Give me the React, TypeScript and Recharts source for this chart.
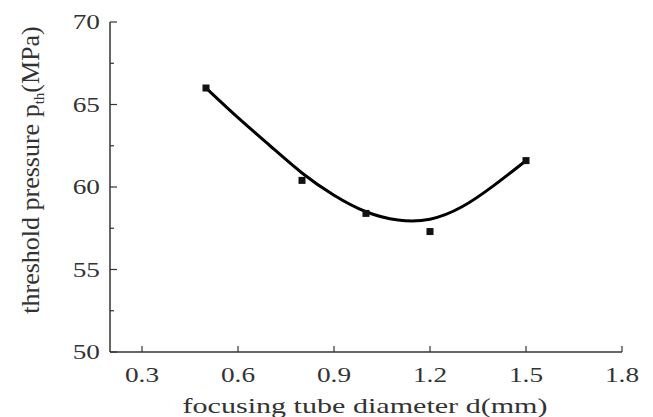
import React from 'react';
import { ComposedChart, Line, Scatter, XAxis, YAxis } from 'recharts';

// measured points
const diameters = [0.5, 0.8, 1.0, 1.2, 1.5];
const pressures = [66.0, 60.4, 58.4, 57.3, 61.6];

// fitted curve
const fitDiameters = [0.5, 0.6, 0.7, 0.8, 0.9, 1.0, 1.1, 1.2, 1.3, 1.4, 1.5];
const fitPressures = [66.0, 64.2, 62.5, 60.85, 59.5, 58.5, 58.0, 58.05, 58.8, 60.1, 61.6];

const xTicks = [0.3, 0.6, 0.9, 1.2, 1.5, 1.8];
const yTicks = [50, 52.5, 55, 57.5, 60, 62.5, 65, 67.5, 70];

const pointData = diameters.map((d, i) => ({ x: d, y: pressures[i] }));
const fitData = fitDiameters.map((d, i) => ({ x: d, y: fitPressures[i] }));

const FONT = '"Liberation Serif", "Times New Roman", serif';
const AXIS = '#333';

const XTick = (props: any) => {
  const { x, y, payload } = props;
  return (
    <g>
      <line x1={x} x2={x} y1={y} y2={y - 6} stroke={AXIS} strokeWidth={1.2} />
      <text
        transform={`translate(${x},${y + 30}) scale(1.3,1)`}
        textAnchor="middle"
        fontFamily={FONT}
        fontSize={21}
        fill="#333"
      >
        {payload.value.toFixed(1)}
      </text>
    </g>
  );
};

const YTick = (props: any) => {
  const { x, y, payload } = props;
  const major = payload.value % 5 === 0;
  return (
    <g>
      <line x1={x} x2={x + (major ? 7 : 4)} y1={y} y2={y} stroke={AXIS} strokeWidth={1.2} />
      {major && (
        <text
          transform={`translate(${x - 10},${y + 7}) scale(1.3,1)`}
          textAnchor="end"
          fontFamily={FONT}
          fontSize={21}
          fill="#333"
        >
          {payload.value}
        </text>
      )}
    </g>
  );
};

const Square = (props: any) => {
  const { cx, cy } = props;
  return <rect x={cx - 3.5} y={cy - 3.5} width={7} height={7} fill="#111" />;
};

const XTitle = () => (
  <text
    x={365}
    y={413}
    textAnchor="middle"
    fontFamily={FONT}
    fontSize={22}
    textLength={365}
    lengthAdjust="spacingAndGlyphs"
    fill="#333"
  >
    focusing tube diameter d(mm)
  </text>
);

const YTitle = () => (
  <text
    transform="translate(39,170) rotate(-90)"
    textAnchor="middle"
    fontFamily={FONT}
    fontSize={26}
    fill="#333"
  >
    threshold pressure p
    <tspan dy={5} fontSize={15}>th</tspan>
    <tspan dy={-5}>(MPa)</tspan>
  </text>
);

export default function App() {
  return (
    <div style={{ position: 'absolute', left: 0, top: 0, background: '#fff' }}>
      <ComposedChart width={653} height={417} margin={{ top: 22, right: 31, left: 0, bottom: 0 }}>
        <XAxis
          dataKey="x"
          type="number"
          domain={[0.2, 1.8]}
          ticks={xTicks}
          allowDataOverflow
          height={65}
          tickLine={false}
          tickSize={0}
          tickMargin={0}
          tick={<XTick />}
          axisLine={{ stroke: AXIS, strokeWidth: 1.5 }}
          label={<XTitle />}
        />
        <YAxis
          dataKey="y"
          type="number"
          domain={[50, 70]}
          ticks={yTicks}
          allowDataOverflow
          width={110}
          tickLine={false}
          tickSize={0}
          tickMargin={0}
          tick={<YTick />}
          axisLine={{ stroke: AXIS, strokeWidth: 1.5 }}
          label={<YTitle />}
        />
        <Line
          data={fitData}
          dataKey="y"
          type="natural"
          stroke="#000"
          strokeWidth={3}
          dot={false}
          isAnimationActive={false}
        />
        <Scatter data={pointData} dataKey="y" shape={<Square />} isAnimationActive={false} />
      </ComposedChart>
    </div>
  );
}
